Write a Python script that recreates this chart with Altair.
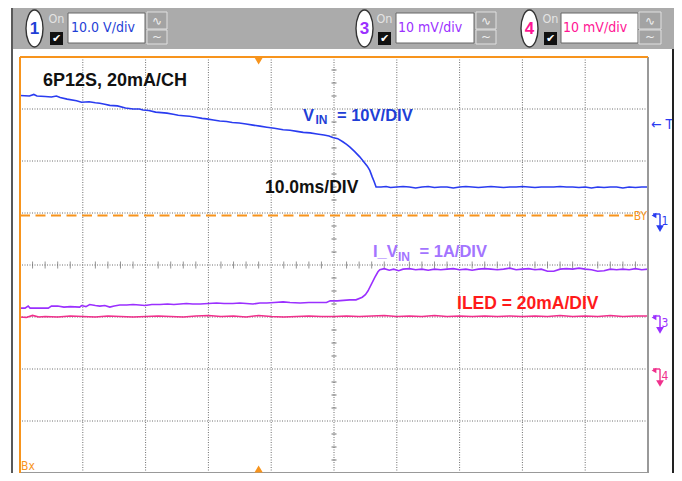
import altair as alt
import pandas as pd

# ---------------- data (time in ms, level in divisions) ----------------
vin_t = [-50, -48.5, -47.8, -47.3, -46, -45, -44.2, -43.6, -42.5, -41, -40.2, -39, -38, -37.3,
         -36.5, -35.7, -34.5, -33.2, -32, -31, -30.4, -29.5, -28.4, -27.5, -26.6, -25.6, -24.8,
         -24, -23, -22, -21, -20.3, -19.2, -18.2, -17.1, -16.2, -15.1, -14, -12.9, -11.8, -10.7,
         -9.5, -8.1, -7, -5.9, -4.9, -3.8, -2.7, -1.6, -0.8, -0.2, 0.6, 1.4, 2.0, 2.5, 3.3, 4.1,
         4.7, 5.3, 5.7, 6.1, 6.4, 6.7, 7.5, 8.3, 9, 10, 11, 12, 13, 14, 15, 16, 17, 18, 19, 20,
         21, 22, 23, 24, 25, 26, 27, 28, 29, 30, 31, 32, 33, 34, 35, 36, 37, 38, 39, 40, 41, 42,
         43, 44, 45, 46, 47, 48, 49, 50]
vin_v = [3.26, 3.25, 3.28, 3.25, 3.24, 3.23, 3.25, 3.22, 3.19, 3.16, 3.13, 3.14, 3.12, 3.11,
         3.09, 3.07, 3.06, 3.02, 3.00, 3.00, 2.98, 2.97, 2.94, 2.93, 2.92, 2.90, 2.88,
         2.87, 2.86, 2.84, 2.82, 2.81, 2.79, 2.77, 2.76, 2.74, 2.73, 2.71, 2.69, 2.67, 2.65,
         2.63, 2.60, 2.59, 2.57, 2.55, 2.54, 2.52, 2.50, 2.48, 2.45, 2.43, 2.37, 2.32, 2.27, 2.18, 2.08,
         1.99, 1.90, 1.82, 1.69, 1.60, 1.50, 1.50, 1.51, 1.49, 1.50, 1.51, 1.50, 1.48, 1.50, 1.51, 1.49, 1.50, 1.50, 1.48, 1.50,
         1.51, 1.50, 1.49, 1.50, 1.51, 1.50, 1.49, 1.50, 1.50, 1.51, 1.50, 1.49, 1.50, 1.50, 1.50, 1.51, 1.50, 1.50, 1.49, 1.50, 1.48, 1.50,
         1.49, 1.50, 1.50, 1.48, 1.50, 1.49, 1.50, 1.50]

ivin_t = [-50, -49.2, -48.7, -48.4, -47, -45.5, -45, -44, -43, -42, -40.5, -40.2, -39.5, -38.9,
          -38, -37.3, -36.5, -35.7, -35, -34.1, -33, -32, -31, -30.1, -29, -27.7, -26.5, -25.5,
          -24.5, -23.5, -22.5, -21.3, -20, -18.7, -17.5, -16.1, -15, -14, -12.9, -11.8, -10.7,
          -9.5, -8.1, -7, -5.4, -4, -2.75, -1.2, -0.6, 0.5, 1.5, 2.5, 3.5, 4.5, 5.0, 5.4, 6.0,
          6.5, 7.0, 7.3, 8, 8.8, 9.5, 10.3, 11, 12, 13, 14, 15, 16, 17, 18, 19, 20, 21, 22, 23,
          24, 25, 26, 27, 28, 29, 30, 31, 32, 33, 34, 35, 36, 37, 38, 39, 40, 41, 42, 43, 44, 45,
          46, 47, 48, 49, 50]
ivin_v = [-0.83, -0.83, -0.79, -0.83, -0.83, -0.83, -0.79, -0.79, -0.81, -0.80, -0.81, -0.78, -0.80, -0.76,
          -0.78, -0.79, -0.78, -0.81, -0.79, -0.77, -0.77, -0.76, -0.77, -0.78, -0.76, -0.76, -0.75, -0.76,
          -0.75, -0.74, -0.75, -0.75, -0.74, -0.73, -0.74, -0.74, -0.73, -0.74, -0.75, -0.73, -0.73,
          -0.72, -0.71, -0.72, -0.73, -0.72, -0.72, -0.72, -0.69, -0.69, -0.68, -0.67, -0.67, -0.62, -0.57, -0.50, -0.36,
          -0.24, -0.13, -0.09, -0.07, -0.10, -0.08, -0.11, -0.08, -0.07, -0.09, -0.08, -0.10, -0.08, -0.09, -0.08, -0.07, -0.09, -0.08, -0.10, -0.08,
          -0.07, -0.08, -0.09, -0.08, -0.06, -0.09, -0.08, -0.07, -0.09, -0.08, -0.12, -0.12, -0.08, -0.07, -0.08, -0.06, -0.08, -0.09, -0.12, -0.11, -0.08, -0.09,
          -0.08, -0.09, -0.07, -0.09, -0.08]

iled_t = [-50, -49, -48, -47, -46, -44, -42, -40, -38, -36, -34, -32, -30, -28, -26, -24, -22, -20,
          -18, -16, -14, -12, -10, -8, -6, -4, -2, 0, 2, 4, 6, 8, 10, 12, 14, 16, 18, 20, 22, 24,
          26, 28, 30, 32, 34, 36, 38, 40, 42, 44, 46, 48, 50]
iled_v = [-1.00, -1.01, -0.97, -1.00, -0.99, -1.00, -0.98, -0.99, -1.00, -0.98, -0.99, -1.00, -0.99, -0.98, -0.99, -1.00, -0.98, -0.97,
          -0.99, -0.98, -1.00, -0.97, -0.99, -1.00, -0.99, -0.98, -0.99, -0.99, -0.98, -0.99, -0.98, -0.97, -0.99, -0.98, -0.99, -0.97, -0.99, -0.98, -0.99, -0.98,
          -0.99, -0.98, -0.99, -0.98, -0.99, -0.97, -0.99, -0.98, -0.99, -0.97, -0.99, -0.98, -0.98]

grid_t = [-40, -30, -20, -10, 0, 10, 20, 30, 40]
grid_v = [-3, -2, -1, 0, 1, 2, 3]
minor_t = [t for t in range(-48, 50, 2) if t % 10 != 0]
minor_v = [q / 4 for q in range(-15, 16) if q % 4 != 0]

ref_level = 0.95      # orange dashed reference
ref_end = 47.6
trig_t = -12.0        # orange trigger markers
trig_level = 2.69     # "T" marker
ch_names = ["1", "3", "4"]
ch_levels = [0.98, -0.98, -2.0]
ch_scales = ["10.0 V/div", "10 mV/div", "10 mV/div"]

# ---------------- colours ----------------
BLUE = "#2a3cf0"
BLUE_T = "#1f3fd6"
PURPLE = "#9b30ff"
PURPLE_T = "#a374ff"
PINK = "#f0308c"
RED = "#ff1a1a"
ORANGE = "#f7941d"
GRID = "#6e6e6e"
FONT = "Liberation Sans"
NARROW = "Liberation Sans Narrow, DejaVu Sans Condensed, Liberation Sans"

W, H = 628, 416
OX, OY = 20, 57  # page position of plot origin

xs = alt.Scale(domain=[-50, 50], nice=False, zero=False)
ys = alt.Scale(domain=[-4, 4], nice=False, zero=False)
X = alt.X("t:Q", scale=xs, axis=None)
Y = alt.Y("v:Q", scale=ys, axis=None)
one = pd.DataFrame({"a": [1]})

layers = []

# grid
layers.append(alt.Chart(pd.DataFrame({"t": grid_t})).mark_rule(color=GRID, strokeWidth=1, strokeDash=[1, 1.5]).encode(x=X))
layers.append(alt.Chart(pd.DataFrame({"v": grid_v})).mark_rule(color=GRID, strokeWidth=1, strokeDash=[1, 1.5]).encode(y=Y))
layers.append(alt.Chart(pd.DataFrame({"t": minor_t, "v": [0] * len(minor_t)}))
              .mark_tick(orient="vertical", size=7, thickness=1, color="#666").encode(x=X, y=Y))
layers.append(alt.Chart(pd.DataFrame({"v": minor_v, "t": [0] * len(minor_v)}))
              .mark_tick(orient="horizontal", size=5, thickness=1.3, color="#666").encode(x=X, y=Y))

# orange reference dashed line
layers.append(alt.Chart(pd.DataFrame({"t": [-50], "t2": [ref_end], "v": [ref_level]}))
              .mark_rule(color=ORANGE, strokeWidth=2, strokeDash=[10, 5.5])
              .encode(x=X, x2="t2:Q", y=Y))


def trace(t, v, color):
    return alt.Chart(pd.DataFrame({"t": t, "v": v})).mark_line(color=color, strokeWidth=1.6).encode(x=X, y=Y)


layers.append(trace(iled_t, iled_v, PINK))
layers.append(trace(ivin_t, ivin_v, PURPLE))
layers.append(trace(vin_t, vin_v, BLUE))

# borders
layers.append(alt.Chart(pd.DataFrame({"t": [50]})).mark_rule(color="#999", strokeWidth=2).encode(x=X))
layers.append(alt.Chart(pd.DataFrame({"v": [-4]})).mark_rule(color="#999", strokeWidth=2).encode(y=Y))
layers.append(alt.Chart(pd.DataFrame({"v": [4]})).mark_rule(color=ORANGE, strokeWidth=2).encode(y=Y))
layers.append(alt.Chart(pd.DataFrame({"t": [-50]})).mark_rule(color=ORANGE, strokeWidth=2).encode(x=X))

# trigger triangles
layers.append(alt.Chart(pd.DataFrame({"t": [trig_t], "v": [4]})).mark_point(shape="triangle-down", filled=True, size=70, color=ORANGE, opacity=1, yOffset=4).encode(x=X, y=Y))
layers.append(alt.Chart(pd.DataFrame({"t": [trig_t], "v": [-4]})).mark_point(shape="triangle-up", filled=True, size=70, color=ORANGE, opacity=1, yOffset=-4).encode(x=X, y=Y))


def dlabel(t, v, text, size, color, dx=0, dy=0, bold=True, align="left", baseline="alphabetic", font=FONT):
    return alt.Chart(pd.DataFrame({"t": [t], "v": [v]})).mark_text(
        text=text, fontSize=size, color=color, fontWeight="bold" if bold else "normal",
        align=align, baseline=baseline, dx=dx, dy=dy, font=font).encode(x=X, y=Y)


# annotations
layers.append(dlabel(-46.34, 3.44, "6P12S, 20mA/CH", 18, "#111"))
layers.append(dlabel(-4.94, 2.77, "V", 16.5, BLUE_T))
layers.append(dlabel(-4.94, 2.77, "IN", 12, BLUE_T, dx=12.5, dy=3.5))
layers.append(dlabel(-4.94, 2.77, "= 10V/DIV", 16.5, BLUE_T, dx=34))
layers.append(dlabel(-10.99, 1.385, "10.0ms/DIV", 17.5, "#111"))
layers.append(dlabel(6.21, 0.154, "I_V", 16.5, PURPLE_T))
layers.append(dlabel(6.21, 0.154, "IN", 12, PURPLE_T, dx=25, dy=4))
layers.append(dlabel(6.21, 0.154, "= 1A/DIV", 16.5, PURPLE_T, dx=46.5))
layers.append(dlabel(19.59, -0.846, "ILED = 20mA/DIV", 17.5, RED))
layers.append(dlabel(50, ref_level, "BY", 12, ORANGE, dx=-1, bold=False, align="right", baseline="middle", font=NARROW))
layers.append(dlabel(-50, -4, "Bx", 12, ORANGE, dx=1, dy=-7, bold=False, baseline="middle", font=NARROW))

# right side markers
layers.append(dlabel(50, trig_level, "← T", 14, BLUE, dx=3, bold=False, baseline="middle", font=NARROW))
for name, lv, col in zip(ch_names, ch_levels, [BLUE, PURPLE, PINK]):
    pos = pd.DataFrame({"t": [50], "v": [lv]})
    layers.append(alt.Chart(pos).mark_tick(orient="horizontal", size=7, thickness=2, color=col, xOffset=8.5)
                  .encode(x=X, y=Y))
    layers.append(alt.Chart(pos).mark_point(shape="triangle-left", filled=True, size=30, color=col, opacity=1,
                                            xOffset=6, yOffset=1.5).encode(x=X, y=Y))
    layers.append(alt.Chart(pos).mark_tick(orient="vertical", size=12, thickness=2, color=col, xOffset=12, yOffset=6)
                  .encode(x=X, y=Y))
    layers.append(alt.Chart(pos).mark_point(shape="triangle-down", filled=True, size=60, color=col, opacity=1,
                                            xOffset=12, yOffset=14.5).encode(x=X, y=Y))
    layers.append(dlabel(50, lv, name, 12, col, dx=13.5, dy=7, bold=False, baseline="middle", font=NARROW))


# ---------------- oscilloscope chrome (pixel layout) ----------------
def prect(x1, y1, x2, y2, fill, stroke=None, sw=1):
    kw = dict(fill=fill, opacity=1)
    if stroke:
        kw.update(stroke=stroke, strokeWidth=sw)
    return alt.Chart(one).mark_rect(**kw).encode(
        x=alt.value(x1 - OX), x2=alt.value(x2 - OX), y=alt.value(y1 - OY), y2=alt.value(y2 - OY))


def ptext(x, y, text, size, color, font=NARROW, weight="normal", align="left", baseline="alphabetic"):
    return alt.Chart(one).mark_text(text=text, fontSize=size, color=color, font=font, fontWeight=weight,
                                    align=align, baseline=baseline).encode(x=alt.value(x - OX), y=alt.value(y - OY))


def pvline(x, y1, y2, color, sw):
    return alt.Chart(one).mark_rule(color=color, strokeWidth=sw).encode(
        x=alt.value(x - OX), y=alt.value(y1 - OY), y2=alt.value(y2 - OY))


ELLIPSE = "M-0.46,0A0.46,1,0,1,1,0.46,0A0.46,1,0,1,1,-0.46,0Z"

layers.append(prect(13, 8, 674, 49, "#ababab"))
layers.append(pvline(12, 8, 480, "#222", 1.5))
layers.append(pvline(673, 49, 480, "#222", 2))

chan_layout = [  # ellipse left, checkbox left, box left, box right, buttons left, buttons right, text left
    (26, 50, 68, 145, 147, 167, 71),
    (356, 378, 396, 474, 476, 496, 398),
    (521, 544, 561, 638, 639, 661, 563),
]
for (ex, cx, bx, bx2, btn, btn2, tx), name, scale_txt, col in zip(chan_layout, ch_names, ch_scales, [BLUE_T, PURPLE, "#ff1493"]):
    layers.append(alt.Chart(one).mark_point(shape=ELLIPSE, size=1369, filled=True, fill="white", stroke="#333",
                                            strokeWidth=1.4, opacity=1, fillOpacity=1)
                  .encode(x=alt.value(ex + 8.5 - OX), y=alt.value(28.5 - OY)))
    layers.append(ptext(ex + 8.5, 29, name, 17, col, font=FONT, weight="bold", align="center", baseline="middle"))
    layers.append(ptext(cx + 6.5, 18.5, "On", 12.5, "#e4e4e4", align="center", baseline="middle"))
    layers.append(prect(cx, 32, cx + 13, 45, "#111"))
    layers.append(ptext(cx + 6.5, 39, "✔", 11, "white", font="DejaVu Sans", align="center", baseline="middle"))
    layers.append(prect(bx, 13, bx2, 43, "white", "#666", 1))
    layers.append(ptext(tx, 32, scale_txt, 14, col))
    layers.append(prect(btn, 12, btn2, 29, "#a3a3a3", "#e0e0e0", 1))
    layers.append(prect(btn, 30, btn2, 44, "#a3a3a3", "#e0e0e0", 1))
    layers.append(ptext((btn + btn2) / 2, 21, "∿", 12, "#eeeeee", font="DejaVu Sans", align="center", baseline="middle"))
    layers.append(ptext((btn + btn2) / 2, 37, "~", 12, "#eeeeee", font="DejaVu Sans", align="center", baseline="middle"))

chart = alt.layer(*layers).properties(
    width=W, height=H,
    padding={"left": 12, "top": 49, "right": 26, "bottom": 0},
    autosize=alt.AutoSizeParams(type="none"),
    background="white",
).configure_view(stroke=None)

chart.save("out.html", embed_options={"renderer": "svg", "actions": False})
